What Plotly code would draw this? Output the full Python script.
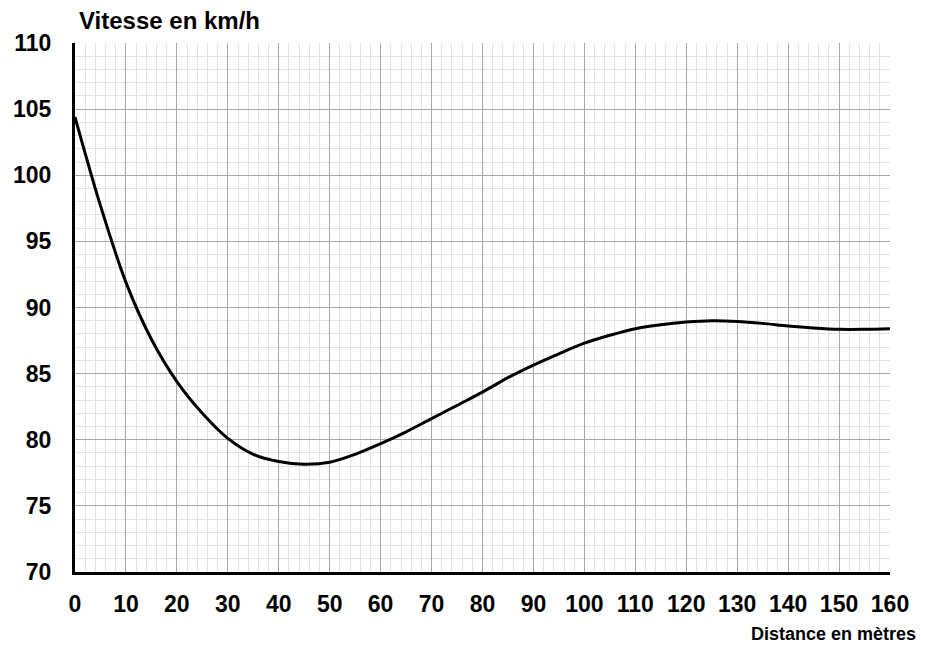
import plotly.graph_objects as go

distance_m = [0, 5, 10, 15, 20, 25, 30, 35, 40, 45, 50, 55, 60, 65, 70, 75, 80,
              85, 90, 95, 100, 105, 110, 115, 120, 125, 130, 135, 140, 145, 150, 155, 160]
vitesse_kmh = [104.4, 97.7, 91.9, 87.6, 84.4, 82.0, 80.1, 78.9, 78.35, 78.15, 78.3, 78.9, 79.7,
               80.6, 81.6, 82.6, 83.6, 84.7, 85.65, 86.5, 87.3, 87.9, 88.4, 88.7, 88.9,
               89.0, 88.95, 88.8, 88.6, 88.45, 88.35, 88.35, 88.4]

x_ticks = list(range(0, 161, 10))
y_ticks = list(range(70, 111, 5))

FONT = "Liberation Sans, Arial, sans-serif"

fig = go.Figure()
fig.add_trace(go.Scatter(
    x=distance_m, y=vitesse_kmh, mode="lines",
    line=dict(color="black", width=3, shape="spline", smoothing=0.9),
    hoverinfo="skip", showlegend=False,
))

fig.update_layout(
    width=925, height=649,
    margin=dict(l=67, r=43, t=35, b=85),
    paper_bgcolor="white", plot_bgcolor="white",
    font=dict(family=FONT, size=23, color="black", weight="bold"),
    xaxis=dict(
        range=[0, 160], tickvals=x_ticks, ticktext=[str(v) for v in x_ticks],
        showgrid=True, gridcolor="#a8a8a8", gridwidth=1,
        minor=dict(dtick=2, tick0=0, showgrid=True, gridcolor="#e2e2e2", gridwidth=1),
        showline=True, linecolor="black", linewidth=3,
        ticks="outside", ticklen=9, tickcolor="rgba(0,0,0,0)",
        tickfont=dict(family=FONT, size=23, color="black", weight="bold"),
        zeroline=False, fixedrange=True, automargin=False,
    ),
    yaxis=dict(
        range=[70, 110], tickvals=y_ticks, ticktext=[str(v) for v in y_ticks],
        showgrid=True, gridcolor="#a8a8a8", gridwidth=1,
        minor=dict(dtick=1, tick0=70, showgrid=True, gridcolor="#e2e2e2", gridwidth=1),
        showline=True, linecolor="black", linewidth=3,
        ticks="outside", ticklen=16, tickcolor="rgba(0,0,0,0)",
        tickfont=dict(family=FONT, size=23, color="black", weight="bold"),
        zeroline=False, fixedrange=True, automargin=False,
    ),
    annotations=[
        dict(text="Vitesse en km/h", xref="paper", yref="paper", x=0.0, y=1.0,
             xanchor="left", yanchor="bottom", xshift=2, yshift=7, showarrow=False,
             font=dict(family=FONT, size=24, color="black", weight="bold")),
        dict(text="Distance en mètres", xref="paper", yref="paper", x=1.0, y=0.0,
             xanchor="right", yanchor="top", xshift=28, yshift=-50, showarrow=False,
             font=dict(family=FONT, size=18, color="black", weight="bold")),
    ],
)

fig.write_html("out.html")
